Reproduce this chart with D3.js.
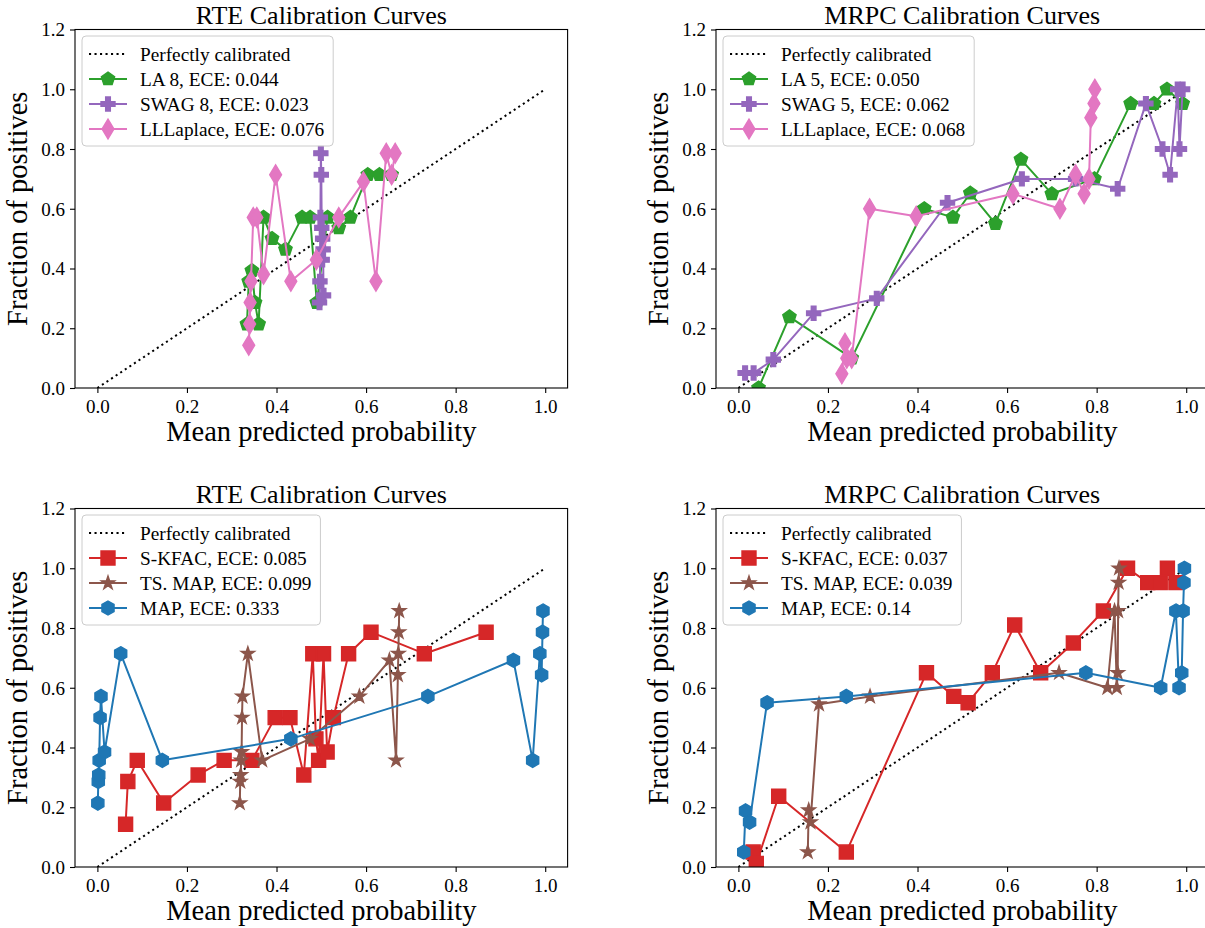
<!DOCTYPE html>
<html>
<head>
<meta charset="utf-8">
<script src="https://cdn.jsdelivr.net/npm/d3@7"></script>
<style>
  body { margin: 0; background: #fff; }
  svg text { font-family: "Liberation Serif", "DejaVu Serif", serif; fill: #000; }
</style>
</head>
<body>
<svg id="chart" width="1205" height="928"></svg>
<script>
// ── Data ────────────────────────────────────────────────
const xTicks = [0, 0.2, 0.4, 0.6, 0.8, 1.0];
const yTicks = [0, 0.2, 0.4, 0.6, 0.8, 1.0, 1.2];
const titles = ['RTE Calibration Curves', 'MRPC Calibration Curves', 'RTE Calibration Curves', 'MRPC Calibration Curves'];
const perfectLabel = 'Perfectly calibrated';

// top-left: RTE
const rteLaX   = [0.334, 0.338, 0.345, 0.352, 0.360, 0.371, 0.390, 0.420, 0.457, 0.475, 0.490, 0.514, 0.539, 0.565, 0.604, 0.630, 0.657];
const rteLaY   = [0.214, 0.357, 0.393, 0.286, 0.214, 0.571, 0.500, 0.464, 0.571, 0.571, 0.286, 0.571, 0.536, 0.571, 0.714, 0.714, 0.714];
const rteSwagX = [0.496, 0.497, 0.498, 0.499, 0.500, 0.501, 0.502, 0.503, 0.504, 0.505];
const rteSwagY = [0.286, 0.357, 0.571, 0.786, 0.714, 0.536, 0.429, 0.500, 0.464, 0.310];
const rteLlX   = [0.338, 0.340, 0.341, 0.343, 0.348, 0.356, 0.371, 0.398, 0.432, 0.489, 0.539, 0.594, 0.622, 0.645, 0.657, 0.665];
const rteLlY   = [0.143, 0.214, 0.286, 0.357, 0.571, 0.571, 0.381, 0.714, 0.357, 0.429, 0.571, 0.690, 0.357, 0.786, 0.714, 0.786];

// top-right: MRPC
const mrpcLaX   = [0.045, 0.114, 0.253, 0.415, 0.479, 0.518, 0.574, 0.631, 0.700, 0.795, 0.876, 0.928, 0.957, 0.992];
const mrpcLaY   = [0.000, 0.238, 0.100, 0.600, 0.571, 0.652, 0.550, 0.765, 0.650, 0.700, 0.952, 0.952, 1.000, 0.952];
const mrpcSwagX = [0.015, 0.034, 0.078, 0.168, 0.309, 0.467, 0.633, 0.753, 0.847, 0.910, 0.947, 0.964, 0.981, 0.985, 0.992];
const mrpcSwagY = [0.050, 0.050, 0.095, 0.250, 0.300, 0.620, 0.700, 0.700, 0.667, 0.952, 0.800, 0.714, 1.000, 0.800, 1.000];
const mrpcLlX   = [0.231, 0.238, 0.242, 0.253, 0.293, 0.397, 0.613, 0.718, 0.753, 0.772, 0.783, 0.787, 0.794, 0.796];
const mrpcLlY   = [0.048, 0.150, 0.100, 0.100, 0.600, 0.575, 0.650, 0.600, 0.714, 0.650, 0.700, 0.905, 0.952, 1.000];

// bottom-left: RTE
const rteKfacX = [0.063, 0.068, 0.089, 0.148, 0.225, 0.283, 0.345, 0.397, 0.430, 0.461, 0.481, 0.488, 0.494, 0.505, 0.513, 0.527, 0.561, 0.611, 0.730, 0.868];
const rteKfacY = [0.143, 0.286, 0.357, 0.214, 0.308, 0.357, 0.357, 0.500, 0.500, 0.308, 0.714, 0.429, 0.357, 0.714, 0.385, 0.500, 0.714, 0.786, 0.714, 0.786];
const rteTsX   = [0.318, 0.319, 0.320, 0.321, 0.322, 0.323, 0.324, 0.336, 0.368, 0.475, 0.585, 0.652, 0.667, 0.671, 0.672, 0.673, 0.674];
const rteTsY   = [0.214, 0.286, 0.308, 0.357, 0.385, 0.500, 0.571, 0.714, 0.357, 0.429, 0.571, 0.692, 0.357, 0.643, 0.714, 0.786, 0.857];
const rteMapX  = [0.001, 0.002, 0.003, 0.004, 0.006, 0.008, 0.016, 0.052, 0.145, 0.432, 0.738, 0.929, 0.972, 0.988, 0.992, 0.994, 0.995];
const rteMapY  = [0.214, 0.286, 0.308, 0.357, 0.500, 0.571, 0.385, 0.714, 0.357, 0.429, 0.571, 0.692, 0.357, 0.714, 0.643, 0.786, 0.857];

// bottom-right: MRPC
const mrpcKfacX = [0.033, 0.040, 0.090, 0.241, 0.420, 0.481, 0.513, 0.567, 0.617, 0.675, 0.748, 0.815, 0.869, 0.914, 0.942, 0.958, 0.977];
const mrpcKfacY = [0.050, 0.012, 0.237, 0.050, 0.650, 0.571, 0.550, 0.650, 0.810, 0.650, 0.750, 0.857, 1.000, 0.952, 0.952, 1.000, 0.952];
const mrpcTsX   = [0.155, 0.157, 0.161, 0.180, 0.294, 0.716, 0.824, 0.840, 0.845, 0.847, 0.848, 0.849, 0.850];
const mrpcTsY   = [0.050, 0.190, 0.150, 0.545, 0.571, 0.650, 0.600, 0.857, 0.600, 0.650, 0.857, 0.952, 1.000];
const mrpcMapX  = [0.012, 0.016, 0.025, 0.064, 0.241, 0.776, 0.943, 0.977, 0.984, 0.990, 0.993, 0.995, 0.996];
const mrpcMapY  = [0.050, 0.188, 0.150, 0.550, 0.571, 0.650, 0.600, 0.857, 0.600, 0.650, 0.857, 0.952, 1.000];

const labelsTL = ['LA 8, ECE: 0.044', 'SWAG 8, ECE: 0.023', 'LLLaplace, ECE: 0.076'];
const labelsTR = ['LA 5, ECE: 0.050', 'SWAG 5, ECE: 0.062', 'LLLaplace, ECE: 0.068'];
const labelsBL = ['S-KFAC, ECE: 0.085', 'TS. MAP, ECE: 0.099', 'MAP, ECE: 0.333'];
const labelsBR = ['S-KFAC, ECE: 0.037', 'TS. MAP, ECE: 0.039', 'MAP, ECE: 0.14'];

// ── Marker shapes (unit sized, scaled by marker size) ─────
const MS = 14;
const shape = pts => ({
  draw(ctx, s) {
    pts.forEach(([x, y], i) => i ? ctx.lineTo(x * s, y * s) : ctx.moveTo(x * s, y * s));
    ctx.closePath();
  }
});
const regular = (n, r) => d3.range(n).map(i => {
  const a = 2 * Math.PI * i / n;
  return [r * Math.sin(a), -r * Math.cos(a)];
});
const starPts = (n, r, ri) => d3.range(2 * n).map(i => {
  const a = Math.PI * i / n, rr = i % 2 ? ri : r;
  return [rr * Math.sin(a), -rr * Math.cos(a)];
});
const MARKERS = {
  pentagon: shape(regular(5, 0.5)),
  hexagon: shape(regular(6, 0.5)),
  star: shape(starPts(5, 0.5, 0.5 * 0.381966)),
  square: shape([[-.5, -.5], [.5, -.5], [.5, .5], [-.5, .5]]),
  plus: shape([[-1, -3], [1, -3], [1, -1], [3, -1], [3, 1], [1, 1], [1, 3], [-1, 3], [-1, 1], [-3, 1], [-3, -1], [-1, -1]].map(p => p.map(v => v / 6))),
  thinDiamond: shape([[0, -0.707], [0.424, 0], [0, 0.707], [-0.424, 0]])
};

const C = { green: '#2ca02c', purple: '#9467bd', pink: '#e377c2', red: '#d62728', brown: '#8c564b', blue: '#1f77b4' };

const panels = [
  { left: 75, top: 29.5, title: titles[0], series: [
    { x: rteLaX, y: rteLaY, color: C.green, marker: 'pentagon', label: labelsTL[0] },
    { x: rteSwagX, y: rteSwagY, color: C.purple, marker: 'plus', label: labelsTL[1] },
    { x: rteLlX, y: rteLlY, color: C.pink, marker: 'thinDiamond', label: labelsTL[2] }] },
  { left: 716, top: 29.5, title: titles[1], series: [
    { x: mrpcLaX, y: mrpcLaY, color: C.green, marker: 'pentagon', label: labelsTR[0] },
    { x: mrpcSwagX, y: mrpcSwagY, color: C.purple, marker: 'plus', label: labelsTR[1] },
    { x: mrpcLlX, y: mrpcLlY, color: C.pink, marker: 'thinDiamond', label: labelsTR[2] }] },
  { left: 75, top: 508.5, title: titles[2], series: [
    { x: rteKfacX, y: rteKfacY, color: C.red, marker: 'square', label: labelsBL[0] },
    { x: rteTsX, y: rteTsY, color: C.brown, marker: 'star', label: labelsBL[1] },
    { x: rteMapX, y: rteMapY, color: C.blue, marker: 'hexagon', label: labelsBL[2] }] },
  { left: 716, top: 508.5, title: titles[3], series: [
    { x: mrpcKfacX, y: mrpcKfacY, color: C.red, marker: 'square', label: labelsBR[0] },
    { x: mrpcTsX, y: mrpcTsY, color: C.brown, marker: 'star', label: labelsBR[1] },
    { x: mrpcMapX, y: mrpcMapY, color: C.blue, marker: 'hexagon', label: labelsBR[2] }] }
];

const W = 492.6, H = 358.5;
const svg = d3.select('#chart');
const sym = name => d3.symbol().type(MARKERS[name]).size(MS);

panels.forEach((p, pi) => {
  const g = svg.append('g').attr('transform', `translate(${p.left},${p.top})`);
  const x = d3.scaleLinear().domain([-0.05, 1.05]).range([0, W]);
  const y = d3.scaleLinear().domain([0, 1.2]).range([H, 0]);

  // clip
  svg.append('clipPath').attr('id', 'clip' + pi)
    .append('rect').attr('width', W).attr('height', H);

  const plot = g.append('g').attr('clip-path', `url(#clip${pi})`);

  // Perfectly calibrated diagonal
  plot.append('line')
    .attr('x1', x(0)).attr('y1', y(0)).attr('x2', x(1)).attr('y2', y(1))
    .attr('stroke', '#000').attr('stroke-width', 2)
    .attr('stroke-dasharray', '2.1,3.4');

  const line = d3.line().x(d => x(d[0])).y(d => y(d[1]));

  p.series.forEach(s => {
    const pts = s.x.map((v, i) => [v, s.y[i]]);
    plot.append('path').datum(pts)
      .attr('d', line).attr('fill', 'none')
      .attr('stroke', s.color).attr('stroke-width', 2).attr('stroke-linejoin', 'round');
    plot.append('g').selectAll('path').data(pts).enter()
      .append('path')
      .attr('transform', d => `translate(${x(d[0])},${y(d[1])})`)
      .attr('d', sym(s.marker))
      .attr('fill', s.color).attr('stroke', s.color).attr('stroke-width', 1.4);
  });

  // Axes
  const xAxis = d3.axisBottom(x).tickValues(xTicks).tickFormat(d3.format('.1f')).tickSize(5).tickPadding(5);
  const yAxis = d3.axisLeft(y).tickValues(yTicks).tickFormat(d3.format('.1f')).tickSize(5).tickPadding(5);
  const gx = g.append('g').attr('transform', `translate(0,${H})`).call(xAxis);
  const gy = g.append('g').call(yAxis);
  [gx, gy].forEach(a => {
    a.select('.domain').remove();
    a.selectAll('line').attr('stroke', '#000').attr('stroke-width', 1.1);
    a.selectAll('text').attr('font-size', 19).attr('font-family', null);
  });
  gx.selectAll('text').attr('dy', '0.78em');
  gy.selectAll('text').attr('dy', '0.34em');

  // Spines
  g.append('rect').attr('width', W).attr('height', H)
    .attr('fill', 'none').attr('stroke', '#000').attr('stroke-width', 1.1);

  // Title and axis labels
  g.append('text').attr('x', W / 2).attr('y', -5.5)
    .attr('text-anchor', 'middle').attr('font-size', 26).text(p.title);
  g.append('text').attr('x', W / 2).attr('y', H + 53)
    .attr('text-anchor', 'middle').attr('font-size', 28.5).text('Mean predicted probability');
  g.append('text')
    .attr('transform', `translate(${-48},${H / 2}) rotate(-90)`)
    .attr('text-anchor', 'middle').attr('font-size', 28.5).text('Fraction of positives');

  // Legend
  const leg = g.append('g').attr('transform', 'translate(7,6.5)');
  const box = leg.append('rect').attr('rx', 4).attr('ry', 4)
    .attr('fill', '#fff').attr('fill-opacity', 0.8)
    .attr('stroke', '#cccccc').attr('stroke-width', 1);
  const rows = [{ label: perfectLabel, dotted: true }].concat(p.series);
  let maxW = 0;
  rows.forEach((r, i) => {
    const cy = 18 + i * 25;
    const ln = leg.append('line').attr('x1', 7).attr('x2', 45).attr('y1', cy).attr('y2', cy)
      .attr('stroke', r.dotted ? '#000' : r.color).attr('stroke-width', 2);
    if (r.dotted) ln.attr('stroke-dasharray', '2.1,3.4');
    else leg.append('path').attr('transform', `translate(26,${cy})`).attr('d', sym(r.marker))
      .attr('fill', r.color).attr('stroke', r.color).attr('stroke-width', 1.4);
    const t = leg.append('text').attr('x', 58).attr('y', cy).attr('dy', '0.34em')
      .attr('font-size', 19.3).text(r.label);
    maxW = Math.max(maxW, t.node().getComputedTextLength());
  });
  box.attr('width', 58 + maxW + 9).attr('height', 110);
});
</script>
</body>
</html>
